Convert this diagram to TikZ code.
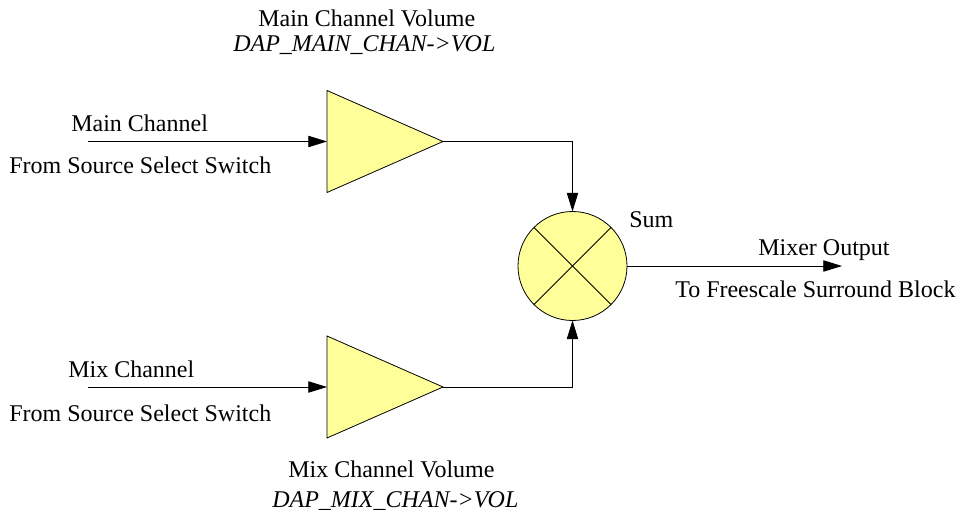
\documentclass[tikz,border=0pt]{standalone}
\usepackage{fontspec}
\setmainfont{Liberation Serif}
\usetikzlibrary{shapes.geometric,arrows.meta}
\definecolor{ampyellow}{RGB}{255,255,153}
\begin{document}
\begin{tikzpicture}[x=0.75pt,y=-0.75pt,
  font=\fontsize{18}{21.6}\selectfont,
  amp/.style={isosceles triangle, isosceles triangle stretches, draw, fill=ampyellow, line width=0.6pt, minimum width=76.5pt, minimum height=87pt, inner sep=0pt, outer sep=0pt, anchor=west},
  summer/.style={circle, draw, fill=ampyellow, line width=0.6pt, minimum size=81.75pt, inner sep=0pt, outer sep=0pt},
  lbl/.style={inner sep=0pt, anchor=base west},
  sig/.style={line width=0.6pt, -{Triangle[length=14pt,width=8.5pt]}}]
\useasboundingbox (0,0) rectangle (957,510);
% amplifiers and sum
\node[amp] (amain) at (327,141.5){};
\node[amp] (amix) at (327,387){};
\node[summer] (sum) at (572.5,266){};
\draw[line width=0.6pt] (sum.45) -- (sum.225);
\draw[line width=0.6pt] (sum.135) -- (sum.-45);
% labels
\node[lbl] (lmain) at (71,132){Main Channel};
\node[lbl] (lmainsrc) at (9,173){From Source Select Switch};
\node[lbl] (lmix) at (68,377){Mix Channel};
\node[lbl] (lmixsrc) at (9,421){From Source Select Switch};
\node[lbl] (lmainvol) at (258,27){Main Channel Volume};
\node[lbl] (lmainreg) at (233,52){\itshape DAP\_MAIN\_CHAN->VOL};
\node[lbl] (lmixvol) at (288,477){Mix Channel Volume};
\node[lbl] (lmixreg) at (272,507){\itshape DAP\_MIX\_CHAN->VOL};
\node[lbl] (lsum) at (629,227){Sum};
\node[lbl] (lout) at (758,255){Mixer Output};
\node[lbl] (loutdst) at (675,297){To Freescale Surround Block};
% connectors
\coordinate (inmain) at (88,141.5);
\coordinate (inmix) at (88,387);
\coordinate (outend) at (842,266);
\draw[sig] (inmain) -- (amain.west);
\draw[sig] (inmix) -- (amix.west);
\draw[sig] (amain.apex) -| (sum.north);
\draw[sig] (amix.apex) -| (sum.south);
\draw[sig] (sum.east) -- (outend);
\end{tikzpicture}
\end{document}
